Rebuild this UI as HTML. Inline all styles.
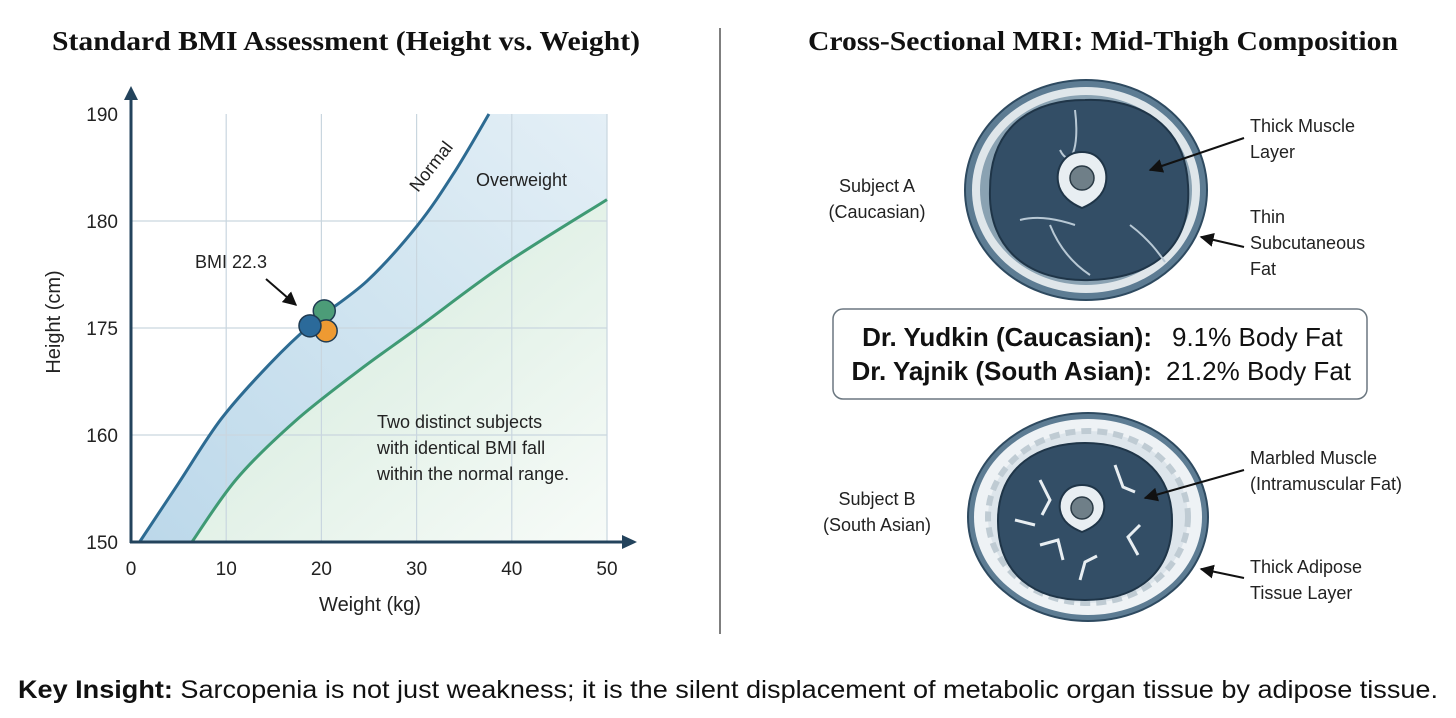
<!DOCTYPE html>
<html><head><meta charset="utf-8"><style>
html,body{margin:0;padding:0;background:#fff;}
svg{display:block;font-family:"Liberation Sans",sans-serif;}
</style></head><body>
<svg id="root" width="1456" height="718" viewBox="0 0 1456 718">
<defs>
<linearGradient id="blueBand" x1="0" y1="1" x2="1" y2="0">
<stop offset="0" stop-color="#bcd8ea"/><stop offset="0.6" stop-color="#d3e6f1"/><stop offset="1" stop-color="#e4eff6"/>
</linearGradient>
<linearGradient id="greenFill" x1="0" y1="0" x2="1" y2="1">
<stop offset="0" stop-color="#cfe8d8"/><stop offset="1" stop-color="#f7fbf8"/>
</linearGradient>
<marker id="ah" viewBox="0 0 10 10" refX="9" refY="5" markerWidth="7" markerHeight="7" orient="auto"><path d="M0,0 L10,5 L0,10 z" fill="#111"/></marker>
</defs>

<text x="52" y="50" font-family="Liberation Serif,serif" font-weight="bold" font-size="27" fill="#111" textLength="588" lengthAdjust="spacingAndGlyphs">Standard BMI Assessment (Height vs. Weight)</text>
<text x="808" y="50" font-family="Liberation Serif,serif" font-weight="bold" font-size="27" fill="#111" textLength="590" lengthAdjust="spacingAndGlyphs">Cross-Sectional MRI: Mid-Thigh Composition</text>
<line x1="720" y1="28" x2="720" y2="634" stroke="#555" stroke-width="1.5"/>

<g id="chart"></g>

<g>
<ellipse cx="1086" cy="190" rx="121" ry="110" fill="#5d7c93" stroke="#2e4a60" stroke-width="2"/>
<ellipse cx="1086" cy="190" rx="114" ry="103" fill="#dfe6ea"/>
<ellipse cx="1086" cy="190" rx="106" ry="95" fill="#8aa2b2"/>
<path d="M990,190 C990,120 1040,100 1085,100 C1140,98 1185,125 1188,185 C1192,250 1150,278 1090,280 C1030,282 988,250 990,190 Z" fill="#334e66" stroke="#1f3548" stroke-width="2"/>
<path d="M1075,110 C1080,150 1070,170 1060,150 M1050,225 C1060,250 1075,265 1090,275 M1130,225 C1150,240 1160,255 1165,262 M1020,220 C1040,215 1060,220 1075,225" stroke="#b8c8d4" stroke-width="2" fill="none"/>
<path d="M1082,152 C1100,152 1108,168 1106,182 C1104,196 1092,204 1082,208 C1072,204 1060,196 1058,182 C1056,168 1064,152 1082,152 Z" fill="#e8eef2" stroke="#1f3548" stroke-width="2"/>
<circle cx="1082" cy="178" r="12" fill="#6f7f88" stroke="#2a3a45" stroke-width="1.5"/>
</g>
<g>
<ellipse cx="1088" cy="517" rx="120" ry="104" fill="#5d7c93" stroke="#2e4a60" stroke-width="2"/>
<ellipse cx="1088" cy="517" rx="114" ry="98" fill="#eef2f5"/>
<ellipse cx="1088" cy="517" rx="100" ry="86" fill="#dde5eb" stroke="#bfcbd3" stroke-width="6" stroke-dasharray="10 6"/>
<ellipse cx="1085" cy="521" rx="88" ry="79" fill="#8aa2b2"/>
<path d="M998,521 C998,465 1040,443 1085,443 C1135,443 1172,470 1172,521 C1172,575 1135,600 1085,600 C1035,600 998,575 998,521 Z" fill="#334e66" stroke="#1f3548" stroke-width="2"/>
<path d="M1040,480 l10,20 l-8,15 M1115,465 l8,22 l12,5 M1140,525 l-12,12 l10,18 M1040,545 l18,-5 l5,20 M1080,580 l5,-18 l12,-6 M1015,520 l20,5" stroke="#e8eef2" stroke-width="3" fill="none"/>
<path d="M1082,485 C1098,485 1106,498 1104,510 C1102,522 1092,528 1082,532 C1072,528 1062,522 1060,510 C1058,498 1066,485 1082,485 Z" fill="#e8eef2" stroke="#1f3548" stroke-width="2"/>
<circle cx="1082" cy="508" r="11" fill="#6f7f88" stroke="#2a3a45" stroke-width="1.5"/>
</g>

<g font-size="18" fill="#222">
<text x="877" y="192" text-anchor="middle">Subject A</text>
<text x="877" y="218" text-anchor="middle">(Caucasian)</text>
<text x="1250" y="132">Thick Muscle</text>
<text x="1250" y="158">Layer</text>
<text x="1250" y="223">Thin</text>
<text x="1250" y="249">Subcutaneous</text>
<text x="1250" y="275">Fat</text>
<text x="877" y="505" text-anchor="middle">Subject B</text>
<text x="877" y="531" text-anchor="middle">(South Asian)</text>
<text x="1250" y="464">Marbled Muscle</text>
<text x="1250" y="490">(Intramuscular Fat)</text>
<text x="1250" y="573">Thick Adipose</text>
<text x="1250" y="599">Tissue Layer</text>
</g>
<g stroke="#111" stroke-width="2" marker-end="url(#ah)">
<line x1="1244" y1="138" x2="1150" y2="170"/>
<line x1="1244" y1="247" x2="1201" y2="237"/>
<line x1="1244" y1="470" x2="1145" y2="498"/>
<line x1="1244" y1="578" x2="1201" y2="569"/>
</g>

<rect x="833" y="309" width="534" height="90" rx="10" fill="#fff" stroke="#6b7780" stroke-width="1.5"/>
<g font-size="26" fill="#111">
<text x="1152" y="346" text-anchor="end" font-weight="bold">Dr. Yudkin (Caucasian):</text>
<text x="1172" y="346">9.1% Body Fat</text>
<text x="1152" y="380" text-anchor="end" font-weight="bold">Dr. Yajnik (South Asian):</text>
<text x="1166" y="380">21.2% Body Fat</text>
</g>

<text x="18" y="698" font-size="25" fill="#111" textLength="1420" lengthAdjust="spacingAndGlyphs"><tspan font-weight="bold">Key Insight:</tspan> Sarcopenia is not just weakness; it is the silent displacement of metabolic organ tissue by adipose tissue.</text>
</svg>
<script>
const xTicks = [0, 10, 20, 30, 40, 50];
const yTicks = [150, 160, 175, 180, 190];
const normalW = [0.9, 5.0, 9.5, 14.6, 19.0, 24.8, 30.1, 34.0, 37.6];
const normalH = [150, 155.5, 162.3, 170.0, 175.2, 177.2, 179.8, 184.6, 190];
const overW = [6.4, 11.1, 17.2, 23.9, 30.1, 39.3, 50.0];
const overH = [150, 155.9, 161.9, 169.0, 175.0, 178.0, 182.0];
const subjectW = [20.3, 20.5, 18.8];
const subjectH = [175.8, 174.6, 175.1];
const subjectColors = ['#4c9c78', '#ee9a32', '#2b6a9a'];

const NS = 'http://www.w3.org/2000/svg';
const g = document.getElementById('chart');
const X0 = 131, X1 = 607, Y0 = 542, Y1 = 114;
function sx(v){ return X0 + (v - xTicks[0]) / (xTicks[xTicks.length-1] - xTicks[0]) * (X1 - X0); }
function sy(v){
  const n = yTicks.length - 1, step = (Y0 - Y1) / n;
  for (let i = 0; i < n; i++) {
    if (v <= yTicks[i+1] || i === n-1) {
      const t = (v - yTicks[i]) / (yTicks[i+1] - yTicks[i]);
      return Y0 - (i + t) * step;
    }
  }
}
function mk(tag, attrs){ const e = document.createElementNS(NS, tag); for (const k in attrs) e.setAttribute(k, attrs[k]); g.appendChild(e); return e; }
function smooth(ws, hs){
  const p = ws.map((w, i) => [sx(w), sy(hs[i])]);
  let d = 'M' + p[0][0] + ',' + p[0][1];
  for (let i = 0; i < p.length - 1; i++) {
    const p0 = p[i-1] || p[i], p1 = p[i], p2 = p[i+1], p3 = p[i+2] || p2;
    const c1x = p1[0] + (p2[0] - p0[0]) / 6, c1y = p1[1] + (p2[1] - p0[1]) / 6;
    const c2x = p2[0] - (p3[0] - p1[0]) / 6, c2y = p2[1] - (p3[1] - p1[1]) / 6;
    d += ' C' + c1x + ',' + c1y + ' ' + c2x + ',' + c2y + ' ' + p2[0] + ',' + p2[1];
  }
  return d;
}
const nPath = smooth(normalW, normalH);
const oPath = smooth(overW, overH);
const oRev = smooth(overW.slice().reverse(), overH.slice().reverse());
const band = nPath + ' L' + sx(xTicks[5]) + ',' + sy(yTicks[4]) + ' L' + oRev.slice(1) + ' Z';
const bandEl = mk('path', {d: band, fill: 'url(#blueBand)'});


const gf = mk('path', {d: oPath + ' L' + sx(xTicks[5]) + ',' + Y0 + ' Z', fill: 'url(#greenFill)'});


xTicks.slice(1).forEach(v => {
  const l = mk('line', {x1: sx(v), x2: sx(v), y1: Y0, y2: Y1, stroke: '#c9d6df', 'stroke-width': 1.2});
  
  
});
yTicks.slice(1, 4).forEach(v => {
  const l = mk('line', {x1: X0, x2: X1, y1: sy(v), y2: sy(v), stroke: '#c9d6df', 'stroke-width': 1.2});
  
  
});
const nl = mk('path', {d: nPath, fill: 'none', stroke: '#2d6b92', 'stroke-width': 3});


const ol = mk('path', {d: oPath, fill: 'none', stroke: '#3f9a74', 'stroke-width': 3});


const ya = mk('path', {d: 'M131,543 L131,96', stroke: '#23435c', 'stroke-width': 3, fill: 'none'});


const yah = mk('path', {d: 'M124,100 L131,86 L138,100 Z', fill: '#23435c'});


const xa = mk('path', {d: 'M130,542 L624,542', stroke: '#23435c', 'stroke-width': 3, fill: 'none'});


const xah = mk('path', {d: 'M622,535 L637,542 L622,549 Z', fill: '#23435c'});


xTicks.forEach(v => {
  const t = mk('text', {x: sx(v), y: 575, 'text-anchor': 'middle', 'font-size': 19, fill: '#222'});
  t.textContent = v;
  
  
});
yTicks.forEach(v => {
  const t = mk('text', {x: 118, y: sy(v) + 7, 'text-anchor': 'end', 'font-size': 19, fill: '#222'});
  t.textContent = v;
  
  
});
const xt = mk('text', {x: 370, y: 611, 'text-anchor': 'middle', 'font-size': 20, fill: '#222'});
xt.textContent = 'Weight (kg)';


const yt = mk('text', {x: 0, y: 0, 'text-anchor': 'middle', 'font-size': 20, fill: '#222', transform: 'translate(60,322) rotate(-90)'});
yt.textContent = 'Height (cm)';


const nlab = mk('text', {x: 0, y: 0, 'font-size': 18, fill: '#222', transform: 'translate(418,193) rotate(-52)'});
nlab.textContent = 'Normal';


const olab = mk('text', {x: 476, y: 186, 'font-size': 18, fill: '#222'});
olab.textContent = 'Overweight';


const bl = mk('text', {x: 195, y: 268, 'font-size': 18, fill: '#222'});
bl.textContent = 'BMI 22.3';


const ba = mk('line', {x1: 266, y1: 279, x2: 296, y2: 305, stroke: '#111', 'stroke-width': 2, 'marker-end': 'url(#ah)'});


['Two distinct subjects', 'with identical BMI fall', 'within the normal range.'].forEach((s, i) => {
  const t = mk('text', {x: 377, y: 428 + i * 26, 'font-size': 18, fill: '#222'});
  t.textContent = s;
  
  
});
subjectW.forEach((w, i) => {
  const c = mk('circle', {cx: sx(w), cy: sy(subjectH[i]), r: 11, fill: subjectColors[i], stroke: '#1f3b52', 'stroke-width': 1.5});
  
  
});
</script>
</body></html>
